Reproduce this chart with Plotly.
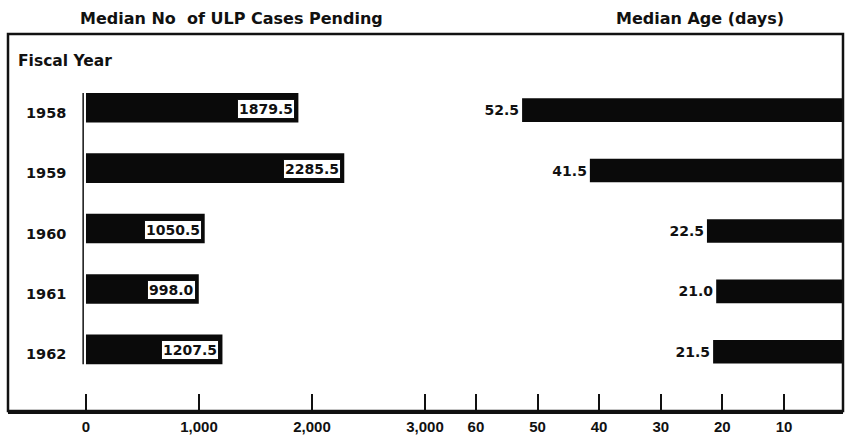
import plotly.graph_objects as go

years = ["1958", "1959", "1960", "1961", "1962"]
cases_pending = [1879.5, 2285.5, 1050.5, 998.0, 1207.5]
median_age = [52.5, 41.5, 22.5, 21.0, 21.5]
left_ticks = [0, 1000, 2000, 3000]
left_tick_labels = ["0", "1,000", "2,000", "3,000"]
right_ticks = [60, 50, 40, 30, 20, 10]
right_tick_labels = ["60", "50", "40", "30", "20", "10"]

FONT = "DejaVu Sans"
TICKFONT = "Liberation Sans"
FS = 14
FW = "bold"
W, H = 846, 438
L, R, T, B = 8, 3, 34, 21
pw = W - L - R
ph = H - T - B
split = (450 - L) / pw

ypos = list(range(len(years)))

fig = go.Figure()
fig.add_trace(go.Bar(
    x=cases_pending, y=ypos, orientation="h", xaxis="x", yaxis="y",
    marker=dict(color="#0a0a0a", line=dict(width=0)), width=0.49,
    showlegend=False,
))
fig.add_trace(go.Bar(
    x=median_age, y=ypos, orientation="h", xaxis="x2", yaxis="y",
    marker=dict(color="#0a0a0a", line=dict(width=0)), width=0.39, offset=-0.155,
    text=[f"{v:.1f}" for v in median_age], textposition="outside",
    textfont=dict(family=FONT, size=FS, color="#111", weight=FW),
    cliponaxis=False, showlegend=False,
))

annotations = []
for yv, v in zip(ypos, cases_pending):
    annotations.append(dict(
        x=v, y=yv, xref="x", yref="y", text=f"{v:.1f}", showarrow=False,
        xanchor="right", xshift=-3, yshift=-1, bgcolor="white", borderpad=1,
        bordercolor="#111", borderwidth=1,
        font=dict(family=FONT, size=FS, color="#111", weight=FW),
    ))
for yv, yr in zip(ypos, years):
    annotations.append(dict(
        x=(24 - L) / pw, y=yv, xref="paper", yref="y", text=yr, showarrow=False,
        xanchor="left", yshift=-5,
        font=dict(family=FONT, size=14.5, color="#111", weight=FW),
    ))
annotations += [
    dict(x=(16 - L) / pw, y=1 - (61 - T) / ph, xref="paper", yref="paper",
         text="Fiscal Year", showarrow=False, xanchor="left", yanchor="middle",
         font=dict(family=FONT, size=15.5, color="#111", weight=FW)),
    dict(x=(231 - L) / pw, y=1 + (T - 18) / ph, xref="paper", yref="paper",
         text="Median No  of ULP Cases Pending", showarrow=False, xanchor="center",
         yanchor="middle", font=dict(family=FONT, size=16, color="#111", weight=FW)),
    dict(x=(700 - L) / pw, y=1 + (T - 18) / ph, xref="paper", yref="paper",
         text="Median Age (days)", showarrow=False, xanchor="center",
         yanchor="middle", font=dict(family=FONT, size=16, color="#111", weight=FW)),
]

shapes = [
    dict(type="rect", xref="paper", yref="paper", x0=0, x1=1, y0=0, y1=1,
         line=dict(color="#111", width=2.5)),
    dict(type="line", xref="x", yref="y", x0=-25, x1=-25, y0=-0.245, y1=4.245,
         line=dict(color="#111", width=1.5)),
]

axis_common = dict(
    showgrid=False, zeroline=False, ticks="inside", ticklen=17, tickwidth=2,
    tickcolor="#111", showline=True, linecolor="#111", linewidth=3,
    tickfont=dict(family=TICKFONT, size=15, color="#111", weight=FW),
    anchor="y", fixedrange=True,
)

fig.update_layout(
    width=W, height=H, margin=dict(l=L, r=R, t=T, b=B),
    paper_bgcolor="white", plot_bgcolor="white",
    xaxis=dict(domain=[0, split], range=[-690, 3221], tickvals=left_ticks,
               ticktext=left_tick_labels, **axis_common),
    xaxis2=dict(domain=[split, 1], range=[64.2, 0.42], tickvals=right_ticks,
                ticktext=right_tick_labels, **axis_common),
    yaxis=dict(range=[5.02, -1.22], showticklabels=False, showgrid=False,
               zeroline=False, showline=False, ticks="", fixedrange=True),
    annotations=annotations, shapes=shapes, bargap=0.5,
)

fig.write_html("out.html", config={"displayModeBar": False},
               post_script="document.body.style.margin='0';document.body.style.overflow='hidden';")
